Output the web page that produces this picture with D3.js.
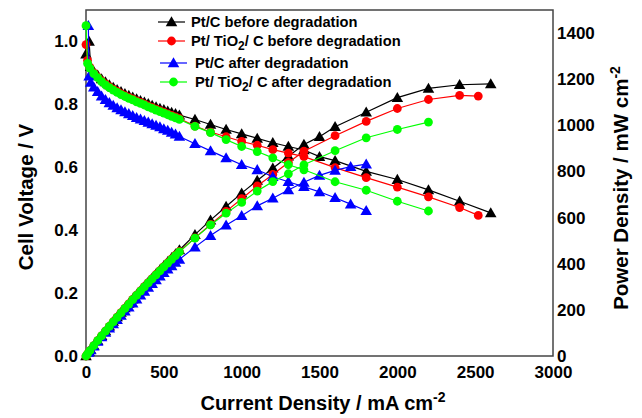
<!DOCTYPE html>
<html>
<head>
<meta charset="utf-8">
<script src="https://cdn.jsdelivr.net/npm/d3@7"></script>
<style>
  html, body { margin: 0; padding: 0; background: #fff; }
  svg { display: block; }
  text { font-family: Arial, "Liberation Sans", sans-serif; font-weight: bold; fill: #000; }
</style>
</head>
<body>
<svg id="chart" width="642" height="418"></svg>
<script>
// ---------- data ----------
const xTicks = [0, 500, 1000, 1500, 2000, 2500, 3000];
const vTicks = [0.0, 0.2, 0.4, 0.6, 0.8, 1.0];
const pTicks = [0, 200, 400, 600, 800, 1000, 1200, 1400];

const seriesNames = [
  "Pt/C before degradation",
  "Pt/ TiO2/ C before degradation",
  "Pt/C after degradation",
  "Pt/ TiO2/ C after degradation"
];
const seriesColors = ["#000000", "#ff0000", "#0000ff", "#00ff00"];
const seriesShapes = ["triangle", "circle", "triangle", "circle"];

// Pt/C before degradation
const ptcBeforeI = [0, 20, 30, 50, 75, 100, 125, 150, 175, 200, 225, 250, 275, 300, 325, 350, 375, 400, 425, 450, 475, 500, 525, 550, 575, 600,
  700, 800, 900, 1000, 1100, 1200, 1300, 1400, 1500, 1600, 1800, 2000, 2200, 2400, 2600];
const ptcBeforeV = [0.96, 1.0, 0.92, 0.905, 0.893, 0.881, 0.871, 0.862, 0.854, 0.847, 0.840, 0.834, 0.828, 0.823, 0.817, 0.812, 0.807, 0.802, 0.797, 0.792, 0.787, 0.783, 0.778, 0.774, 0.770, 0.766,
  0.752, 0.736, 0.720, 0.706, 0.692, 0.678, 0.666, 0.655, 0.634, 0.621, 0.587, 0.561, 0.528, 0.492, 0.455];
const ptcBeforeP = [0, 20, 28, 45.3, 67.0, 88.1, 108.9, 129.3, 149.5, 169.4, 189.0, 208.5, 227.7, 246.9, 265.5, 284.2, 302.6, 320.8, 338.7, 356.4, 373.8, 391.5, 408.5, 425.7, 442.8, 459.6,
  526, 589, 648, 706, 761, 814, 866, 917, 951, 994, 1057, 1120, 1160, 1176, 1180];

// Pt/TiO2/C before degradation
const ptiBeforeI = [0, 10, 25, 50, 75, 100, 125, 150, 175, 200, 225, 250, 275, 300, 325, 350, 375, 400, 425, 450, 475, 500, 525, 550, 575, 600,
  700, 800, 900, 1000, 1100, 1200, 1300, 1400, 1600, 1800, 2000, 2200, 2400, 2520];
const ptiBeforeV = [0.99, 0.94, 0.918, 0.9, 0.887, 0.875, 0.865, 0.856, 0.848, 0.841, 0.834, 0.828, 0.822, 0.817, 0.811, 0.806, 0.801, 0.795, 0.790, 0.785, 0.780, 0.775, 0.770, 0.765, 0.760, 0.755,
  0.731, 0.712, 0.697, 0.682, 0.670, 0.656, 0.645, 0.634, 0.599, 0.567, 0.537, 0.506, 0.472, 0.447];
const ptiBeforeP = [0, 9.4, 23.0, 45.0, 66.5, 87.5, 108.1, 128.4, 148.4, 168.2, 187.7, 207.0, 226.1, 245.1, 263.6, 282.1, 300.4, 318.0, 335.8, 353.3, 370.5, 387.5, 404.3, 420.8, 437.0, 453.0,
  512, 570, 627, 682, 737, 787, 839, 888, 955, 1017, 1073, 1112, 1130, 1127];

// Pt/C after degradation
const ptcAfterI = [15, 20, 30, 50, 75, 100, 125, 150, 175, 200, 225, 250, 275, 300, 325, 350, 375, 400, 425, 450, 475, 500, 525, 550, 575, 600,
  700, 800, 900, 1000, 1100, 1200, 1300, 1400, 1500, 1600, 1700, 1800];
const ptcAfterV = [1.05, 0.89, 0.87, 0.855, 0.84, 0.826, 0.815, 0.805, 0.797, 0.789, 0.782, 0.776, 0.770, 0.764, 0.758, 0.753, 0.748, 0.743, 0.738, 0.733, 0.728, 0.722, 0.717, 0.711, 0.705, 0.698,
  0.675, 0.652, 0.630, 0.608, 0.592, 0.570, 0.554, 0.538, 0.522, 0.503, 0.483, 0.462];
const ptcAfterP = [15.8, 17.8, 26.1, 42.8, 63.0, 82.6, 101.9, 120.8, 139.5, 157.8, 176.0, 194.0, 211.8, 229.2, 246.4, 263.6, 280.5, 297.2, 313.7, 329.9, 345.8, 361.0, 376.4, 391.1, 405.4, 418.8,
  472, 522, 567, 608, 651, 684, 720, 753, 783, 805, 821, 832];

// Pt/TiO2/C after degradation
const ptiAfterI = [0, 10, 25, 50, 75, 100, 125, 150, 175, 200, 225, 250, 275, 300, 325, 350, 375, 400, 425, 450, 475, 500, 525, 550, 575, 600,
  700, 800, 900, 1000, 1100, 1200, 1300, 1400, 1600, 1800, 2000, 2200];
const ptiAfterV = [1.05, 0.93, 0.915, 0.898, 0.885, 0.872, 0.862, 0.853, 0.845, 0.838, 0.831, 0.825, 0.819, 0.814, 0.808, 0.803, 0.798, 0.792, 0.787, 0.782, 0.777, 0.772, 0.767, 0.762, 0.757, 0.752,
  0.73, 0.71, 0.688, 0.666, 0.650, 0.630, 0.608, 0.592, 0.554, 0.527, 0.492, 0.461];
const ptiAfterP = [0, 9.3, 22.9, 44.9, 66.4, 87.2, 107.8, 128.0, 147.9, 167.6, 187.0, 206.3, 225.2, 244.2, 262.6, 281.1, 299.3, 316.8, 334.5, 351.9, 369.1, 386.0, 402.7, 419.1, 435.3, 451.2,
  511, 568, 619, 666, 715, 756, 790, 829, 890, 946, 982, 1014];

const seriesI = [ptcBeforeI, ptiBeforeI, ptcAfterI, ptiAfterI];
const seriesV = [ptcBeforeV, ptiBeforeV, ptcAfterV, ptiAfterV];
const seriesP = [ptcBeforeP, ptiBeforeP, ptcAfterP, ptiAfterP];

// ---------- layout ----------
const svg = d3.select("#chart");
const L = 86, R = 553, T = 10, B = 356;

const x = d3.scaleLinear().domain([0, 3000]).range([L, R]);
const yV = d3.scaleLinear().domain([0, 1.1]).range([B, T]);
const yP = d3.scaleLinear().domain([0, 1500]).range([B, T]);

svg.append("rect").attr("width", 642).attr("height", 418).attr("fill", "#fff");

// axes
const gx = svg.append("g").attr("transform", `translate(0,${B})`)
  .call(d3.axisBottom(x).tickValues(xTicks).tickSize(0).tickPadding(10).tickFormat(d3.format("d")));
const gl = svg.append("g").attr("transform", `translate(${L},0)`)
  .call(d3.axisLeft(yV).tickValues(vTicks).tickSize(0).tickPadding(8).tickFormat(d3.format(".1f")));
const gr = svg.append("g").attr("transform", `translate(${R},0)`)
  .call(d3.axisRight(yP).tickValues(pTicks).tickSize(0).tickPadding(4).tickFormat(d3.format("d")));
[gx, gl, gr].forEach(g => {
  g.select(".domain").remove();
  g.selectAll("text").style("font-size", "17px").style("font-family", "Arial, 'Liberation Sans', sans-serif")
    .style("font-weight", "bold").attr("fill", "#000");
});

// frame
svg.append("rect").attr("x", L).attr("y", T).attr("width", R - L).attr("height", B - T)
  .attr("fill", "none").attr("stroke", "#444").attr("stroke-width", 1.5);

// series
const plot = svg.append("g");
const triangle = d3.symbol().type(d3.symbolTriangle).size(58);

function drawSeries(k) {
  const color = seriesColors[k];
  const I = seriesI[k];
  const ptsV = I.map((c, i) => [c, seriesV[k][i]]);
  const ptsP = I.map((c, i) => [c, seriesP[k][i]]);
  const g = plot.append("g");
  [[ptsV, yV], [ptsP, yP]].forEach(([pts, ys]) => {
    g.append("path").datum(pts)
      .attr("fill", "none").attr("stroke", color).attr("stroke-width", 1.2)
      .attr("d", d3.line().x(d => x(d[0])).y(d => ys(d[1])));
    if (seriesShapes[k] === "triangle") {
      g.selectAll(null).data(pts).enter().append("path")
        .attr("d", triangle)
        .attr("transform", d => `translate(${x(d[0])},${ys(d[1]) + 1})`)
        .attr("fill", color);
    } else {
      g.selectAll(null).data(pts).enter().append("circle")
        .attr("cx", d => x(d[0])).attr("cy", d => ys(d[1])).attr("r", 4.4)
        .attr("fill", color);
    }
  });
}
[0, 1, 2, 3].forEach(drawSeries);

// legend
const legendY = [22, 41, 63, 82];
const legendLineX = [[158, 185], [158, 185], [160, 187], [160, 187]];
const legendTextX = [191, 191, 195, 195];
const lg = svg.append("g");
seriesNames.forEach((name, k) => {
  const [x1, x2] = legendLineX[k];
  const yy = legendY[k];
  lg.append("line").attr("x1", x1).attr("x2", x2).attr("y1", yy).attr("y2", yy)
    .attr("stroke", seriesColors[k]).attr("stroke-width", 1.2);
  const cx = (x1 + x2) / 2;
  if (seriesShapes[k] === "triangle") {
    lg.append("path").attr("d", triangle).attr("transform", `translate(${cx},${yy + 1})`).attr("fill", seriesColors[k]);
  } else {
    lg.append("circle").attr("cx", cx).attr("cy", yy).attr("r", 4.4).attr("fill", seriesColors[k]);
  }
  const t = lg.append("text").attr("x", legendTextX[k]).attr("y", yy + 5).style("font-size", "14.7px");
  const parts = name.split("TiO2");
  if (parts.length === 2) {
    t.append("tspan").text(parts[0] + "TiO");
    t.append("tspan").text("2").attr("dy", 4).style("font-size", "12px");
    t.append("tspan").text(parts[1]).attr("dy", -4);
  } else {
    t.text(name);
  }
});

// axis titles
const xt = svg.append("text").attr("x", 323).attr("y", 410).attr("text-anchor", "middle").style("font-size", "20px");
xt.append("tspan").text("Current Density / mA cm");
xt.append("tspan").text("-2").attr("dy", -8).style("font-size", "14px");

svg.append("text").attr("transform", "translate(33,197) rotate(-90)").attr("text-anchor", "middle")
  .style("font-size", "20.5px").text("Cell Voltage / V");

const yt = svg.append("text").attr("transform", "translate(628,188) rotate(-90)").attr("text-anchor", "middle")
  .style("font-size", "20.5px");
yt.append("tspan").text("Power Density / mW cm");
yt.append("tspan").text("-2").attr("dy", -8).style("font-size", "14px");
</script>
</body>
</html>
